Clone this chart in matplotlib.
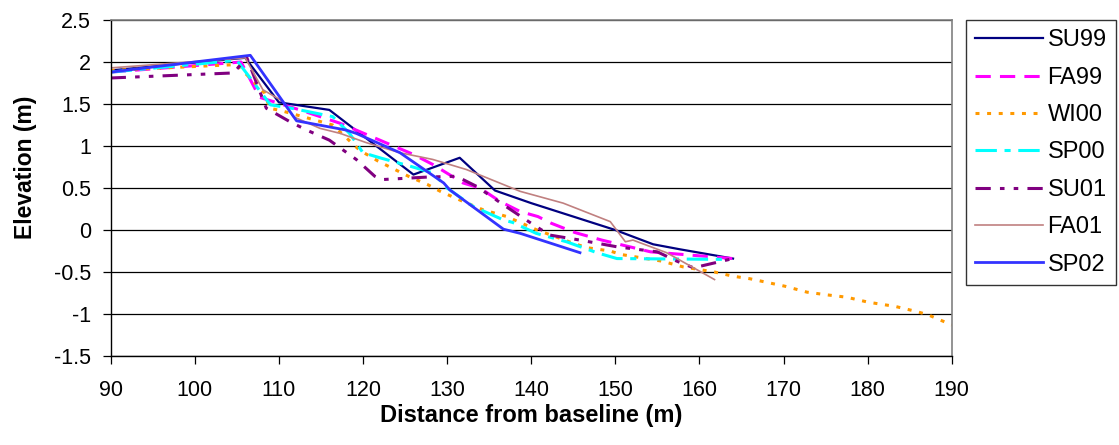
import matplotlib
matplotlib.use('Agg')
import matplotlib.pyplot as plt

plt.rcParams['font.family'] = ['Liberation Sans', 'DejaVu Sans']

# survey profiles: distance from baseline (m) / elevation (m)
su99_x = [90, 106, 110, 116, 126, 131.5, 135.7, 140, 145, 150, 154.5, 157.7, 164]
su99_y = [1.9, 2.05, 1.52, 1.43, 0.66, 0.86, 0.47, 0.32, 0.16, 0.0, -0.17, -0.23, -0.34]

fa99_x = [90, 105.5, 107.7, 112.5, 117.3, 122, 126, 128.3, 131.9, 133.9, 136.3, 138.7, 140.8, 142.4, 145.2, 148.4, 154.2, 164]
fa99_y = [1.88, 2.0, 1.58, 1.43, 1.27, 1.07, 0.9, 0.78, 0.56, 0.5, 0.34, 0.22, 0.16, 0.08, -0.03, -0.12, -0.26, -0.34]

wi00_x = [90, 105, 108.3, 108.9, 110.3, 113.9, 116.4, 119.6, 121.8, 125.4, 127.7, 129.2, 131.9, 134.3, 137.1, 140.7,
          144.8, 146.6, 149.4, 150.6, 155.5, 158.1, 161.8, 164, 166, 170.2, 172.8, 175, 177.5, 180.1, 183.3, 185.8,
          187.2, 190]
wi00_y = [1.9, 1.97, 1.63, 1.45, 1.42, 1.32, 1.25, 0.95, 0.82, 0.64, 0.54, 0.46, 0.34, 0.24, 0.16, 0.0,
          -0.15, -0.21, -0.25, -0.29, -0.37, -0.44, -0.5, -0.55, -0.58, -0.67, -0.74, -0.77, -0.8, -0.86, -0.91, -0.97,
          -1.01, -1.13]

sp00_x = [90, 105, 109, 111.5, 116.4, 118.4, 120, 122, 125.6, 128.3, 130, 133.1, 136.7, 137.8, 140.6, 144.2, 147.8, 150.2, 163.5]
sp00_y = [1.88, 2.02, 1.49, 1.45, 1.35, 1.15, 0.92, 0.86, 0.76, 0.68, 0.5, 0.28, 0.12, 0.09, -0.04, -0.14, -0.27, -0.34, -0.35]

su01_x = [90, 104.6, 106.2, 108.5, 111.3, 113.3, 116, 119.2, 121.4, 122.2, 127.6, 131.1, 133.5, 136.7, 140.3, 142.2,
          145.8, 150.2, 155, 157.3, 159.3, 164]
su01_y = [1.81, 1.87, 2.05, 1.45, 1.29, 1.19, 1.07, 0.84, 0.64, 0.6, 0.63, 0.64, 0.52, 0.3, 0.06, -0.06,
          -0.12, -0.2, -0.26, -0.37, -0.45, -0.34]

fa01_x = [90, 106, 108.1, 110.5, 111.7, 114.9, 117.3, 120.4, 124.4, 128.3, 132.3, 138.7, 143.8, 149.4, 151.2, 152.1, 156.1, 161.8]
fa01_y = [1.93, 2.05, 1.67, 1.53, 1.35, 1.21, 1.15, 1.04, 0.92, 0.84, 0.72, 0.46, 0.32, 0.1, -0.14, -0.12, -0.27, -0.59]

sp02_x = [90, 106.6, 112.1, 118, 119.2, 124.4, 129.6, 130.3, 136.7, 138.7, 145.8]
sp02_y = [1.88, 2.08, 1.3, 1.19, 1.15, 0.92, 0.56, 0.48, 0.01, -0.04, -0.27]

fig = plt.figure(figsize=(11.19, 4.45), dpi=100)
ax = fig.add_axes([0.0989, 0.2, 0.7516, 0.755])

ax.plot(su99_x, su99_y, color='#000080', lw=1.6, label='SU99')
ax.plot(fa99_x, fa99_y, color='#FF00FF', lw=2.2, ls=(0, (5, 3)), label='FA99')
ax.plot(wi00_x, wi00_y, color='#FF9900', lw=2.2, ls=(0, (1.3, 2.5)), label='WI00')
ax.plot(sp00_x, sp00_y, color='#00FFFF', lw=2.2, ls=(0, (7, 2.5, 2, 2.5)), label='SP00')
ax.plot(su01_x, su01_y, color='#800080', lw=2.2, ls=(0, (5, 3, 1.5, 3, 1.5, 3)), label='SU01')
ax.plot(fa01_x, fa01_y, color='#C08080', lw=1.2, label='FA01')
ax.plot(sp02_x, sp02_y, color='#3333FF', lw=2.0, label='SP02')

ax.set_xlim(90, 190)
ax.set_ylim(-1.5, 2.5)
ax.set_xticks(range(90, 191, 10))
ax.set_yticks([-1.5, -1, -0.5, 0, 0.5, 1, 1.5, 2, 2.5])
ax.set_yticklabels(['-1.5', '-1', '-0.5', '0', '0.5', '1', '1.5', '2', '2.5'])
ax.yaxis.grid(True, color='black', lw=0.9)
ax.set_axisbelow(True)
ax.tick_params(direction='out', length=6, width=0.9, labelsize=15.5, color='black')
ax.tick_params(axis='y', pad=8)
ax.tick_params(axis='x', pad=11)

for s in ['top', 'right']:
    ax.spines[s].set_color('#808080')
    ax.spines[s].set_linewidth(1.2)
for s in ['left', 'bottom']:
    ax.spines[s].set_color('black')
    ax.spines[s].set_linewidth(1.0)

ax.set_xlabel('Distance from baseline (m)', fontsize=17, fontweight='bold')
ax.set_ylabel('Elevation (m)', fontsize=16.5, fontweight='bold')
ax.xaxis.set_label_coords(0.5, -0.143)
ax.yaxis.set_label_coords(-0.088, 0.5625)

leg = fig.legend(loc='upper left', bbox_to_anchor=(966 / 1119, 1 - 20 / 445), borderaxespad=0,
                 fontsize=17, frameon=True, fancybox=False, edgecolor='black',
                 handlelength=2.85, handletextpad=0.2, labelspacing=0.65, borderpad=0.4)
leg.get_frame().set_linewidth(1.0)

fig.savefig('out.png', dpi=100)
